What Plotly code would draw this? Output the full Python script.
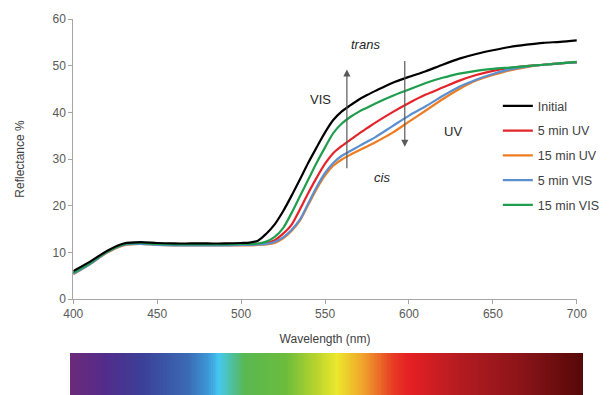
import numpy as np
import plotly.graph_objects as go

wl = [400, 410, 420, 430, 440, 450, 460, 470, 480, 490, 500,
      505, 510, 515, 520, 525, 530, 535, 540, 545, 550, 555, 560, 565, 570, 575, 580,
      590, 600, 610, 620, 630, 640, 650, 660, 670, 680, 690, 700]

initial = [6.0, 8.0, 10.3, 11.9, 12.2, 12.0, 11.9, 11.9, 11.9, 11.9, 12.0,
           12.1, 12.5, 14.0, 16.0, 18.8, 22.1, 25.6, 29.2, 32.5, 35.7, 38.4, 40.2, 41.5, 42.7, 43.7, 44.6,
           46.3, 47.6, 48.8, 50.2, 51.5, 52.5, 53.3, 54.0, 54.5, 54.9, 55.1, 55.4]
uv5 = [5.5, 7.6, 10.0, 11.6, 11.9, 11.7, 11.6, 11.6, 11.6, 11.6, 11.7,
       11.7, 11.8, 12.0, 12.6, 14.0, 15.9, 19.2, 22.7, 26.0, 29.0, 31.3, 32.8, 34.1, 35.4, 36.6, 37.8,
       40.0, 42.0, 43.8, 45.3, 46.8, 48.0, 48.9, 49.5, 49.9, 50.2, 50.5, 50.7]
uv15 = [5.3, 7.5, 9.9, 11.5, 11.8, 11.6, 11.5, 11.5, 11.5, 11.5, 11.5,
        11.5, 11.6, 11.7, 12.0, 13.0, 14.6, 16.8, 20.2, 23.6, 26.5, 28.6, 29.9, 30.9, 31.8, 32.7, 33.6,
        35.6, 38.0, 40.4, 42.8, 45.0, 46.8, 48.0, 49.0, 49.7, 50.2, 50.5, 50.7]
vis5 = [5.4, 7.5, 10.0, 11.6, 11.8, 11.6, 11.5, 11.5, 11.5, 11.5, 11.6,
        11.6, 11.7, 11.8, 12.2, 13.2, 14.8, 17.0, 20.5, 24.0, 27.0, 29.2, 30.7, 31.7, 32.7, 33.7, 34.7,
        37.0, 39.3, 41.3, 43.5, 45.5, 47.0, 48.2, 49.2, 49.8, 50.2, 50.5, 50.7]
vis15 = [5.6, 7.7, 10.1, 11.7, 12.0, 11.8, 11.7, 11.7, 11.7, 11.7, 11.8,
         11.8, 11.9, 12.3, 13.3, 15.2, 18.4, 22.0, 25.6, 29.2, 32.5, 35.6, 37.6, 39.0, 40.1, 41.0, 41.9,
         43.5, 44.9, 46.3, 47.4, 48.3, 48.9, 49.3, 49.6, 49.9, 50.2, 50.5, 50.8]

series_names = ["Initial", "5 min UV", "15 min UV", "5 min VIS", "15 min VIS"]
series_values = [initial, uv5, uv15, vis5, vis15]
series_colors = ["#000000", "#e3242b", "#ee7d22", "#5b8fd0", "#1f9e4e"]

x_ticks = [400, 450, 500, 550, 600, 650, 700]
y_ticks = [0, 10, 20, 30, 40, 50, 60]

spectrum_pos = [0.0, 0.07, 0.14, 0.23, 0.27, 0.29, 0.34, 0.42, 0.48, 0.52, 0.57, 0.63, 0.66, 0.75, 0.88, 1.0]
spectrum_col = ["#6c2a78", "#522c8c", "#3b3f98", "#3a6ab4", "#3d98d8", "#45c8f0", "#58b850", "#6cbc3c",
                "#b8d42c", "#ece82c", "#f0a42c", "#e83a24", "#e62024", "#b81c22", "#8a1418", "#560808"]

FONT = "Liberation Sans, Arial, sans-serif"
fig = go.Figure()

# draw coloured series first, black (Initial) last so it sits on top
order = [1, 2, 3, 4, 0]
for i in order:
    n, v, c = series_names[i], series_values[i], series_colors[i]
    fig.add_trace(go.Scatter(x=wl, y=v, name=n, mode="lines", legendgroup=n, legendrank=i + 1,
                             line=dict(color=c, width=2.2, shape="spline", smoothing=0.8)))

spec_x = np.linspace(400, 700, 301)
fig.add_trace(go.Heatmap(x=spec_x, y=[0], z=[spec_x], xaxis="x2", yaxis="y2",
                         colorscale=[[p, c] for p, c in zip(spectrum_pos, spectrum_col)],
                         showscale=False, hoverinfo="skip"))

fig.update_layout(
    width=601, height=387,
    margin=dict(l=62, r=26, t=11, b=0),
    paper_bgcolor="white", plot_bgcolor="white",
    font=dict(family=FONT, size=12, color="#595959"),
    showlegend=True,
    legend=dict(x=0.834, y=0.808, xanchor="left", yanchor="top", traceorder="grouped",
                tracegroupgap=5.5, itemwidth=30, font=dict(size=12.5, color="#404040"),
                bgcolor="rgba(0,0,0,0)"),
    xaxis=dict(domain=[0.0064, 0.988], range=[400, 700], tickvals=x_ticks, showgrid=False, zeroline=False,
               showline=True, linecolor="#a6a6a6", linewidth=1, ticks="outside", ticklen=4, tickcolor="#a6a6a6",
               anchor="y", automargin=False,
               title=dict(text="Wavelength (nm)", font=dict(size=12, color="#404040"), standoff=14)),
    yaxis=dict(domain=[0.2553, 1.0], range=[0, 60], tickvals=y_ticks, showgrid=False, zeroline=False,
               showline=True, linecolor="#a6a6a6", linewidth=1, ticks="outside", ticklen=4, tickcolor="#a6a6a6",
               automargin=False,
               title=dict(text="Reflectance %", font=dict(size=12, color="#404040"), standoff=25)),
    xaxis2=dict(domain=[0, 1], range=[400, 700], visible=False, anchor="y2"),
    yaxis2=dict(domain=[0, 0.1117], range=[-0.5, 0.5], visible=False, anchor="x2"),
)

arrow_col = "#595959"
fig.add_annotation(x=563, y=49.2, ax=563, ay=27.7, xref="x", yref="y", axref="x", ayref="y",
                   showarrow=True, arrowhead=2, arrowsize=1.2, arrowwidth=1.2, arrowcolor=arrow_col, text="")
fig.add_annotation(x=597.5, y=32.6, ax=597.5, ay=51.3, xref="x", yref="y", axref="x", ayref="y",
                   showarrow=True, arrowhead=2, arrowsize=1.2, arrowwidth=1.2, arrowcolor=arrow_col, text="")

labels = [("trans", 574, 54.5, True), ("VIS", 547, 42.7, False), ("cis", 584, 26.0, True), ("UV", 626, 36.0, False)]
for t, lx, ly, it in labels:
    fig.add_annotation(x=lx, y=ly, xref="x", yref="y", showarrow=False,
                       text=f"<i>{t}</i>" if it else t, font=dict(size=13, color="#262626"))

fig.write_html("out.html")
